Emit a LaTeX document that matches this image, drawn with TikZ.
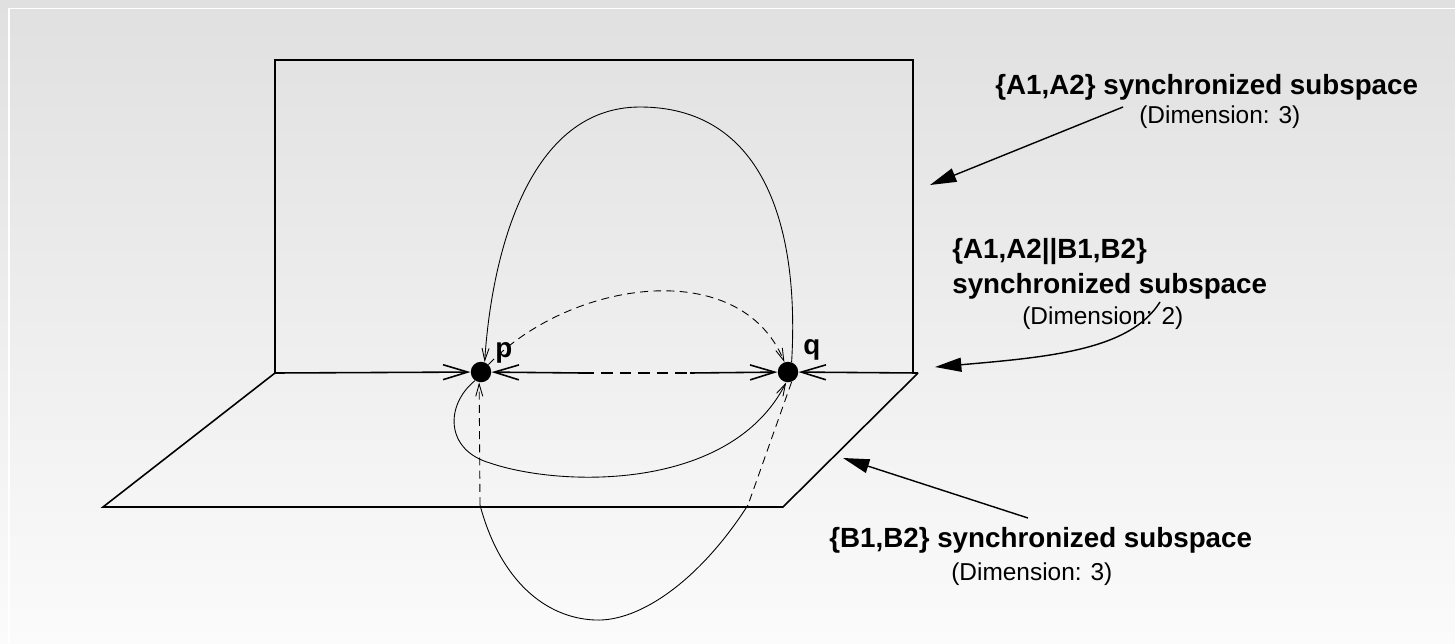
\documentclass[tikz,border=0pt]{standalone}
\usepackage{fontspec}
\setmainfont{Liberation Sans}
\usepackage{tikz}
\usetikzlibrary{arrows.meta}
\definecolor{bgtop}{RGB}{224,224,224}
\definecolor{bgbottom}{RGB}{251,251,251}

\begin{document}
\begin{tikzpicture}[x=0.02cm, y=-0.02cm,
  plane/.style={line width=0.9pt},
  flow/.style={line width=0.5pt},
  hidden/.style={flow, dash pattern=on 4.5pt off 3pt},
  bigtip/.style={-{Straight Barb[length=14pt, width=8.5pt]}},
  smalltip/.style={-{Straight Barb[length=7pt, width=4pt]}},
  callout/.style={line width=0.8pt, -{Triangle[length=15pt, width=8pt]}},
  dot/.style={circle, fill=black, minimum size=0.41cm, inner sep=0pt},
  bigtext/.style={font=\fontsize{15.8}{19}\selectfont\bfseries, inner sep=0pt, anchor=base west},
  smalltext/.style={font=\fontsize{13.9}{17}\selectfont, inner sep=0pt, anchor=base west}]

  % Background
  \useasboundingbox (0,0) rectangle (1455,643);
  \shade[top color=bgtop, bottom color=bgbottom] (0,0) rectangle (1455,643);
  \draw[white, line width=0.8pt] (9,643) -- (9,8.5) -- (1455,8.5);

  % Upright plane and lower plane
  \draw[plane] (275,373) -- (275,60) -- (913,60) -- (913,373);
  \draw[plane] (275,373) -- (103,507) -- (783,507) -- (918,373);

  % States p and q on the common line
  \node[dot] (p) at (481,372) {};
  \node[dot] (q) at (788,372) {};
  \node[bigtext] (plabel) at (495,357) {p};
  \node[bigtext] (qlabel) at (803,354) {q};

  \coordinate (wl) at (275,373);
  \coordinate (wr) at (918,373);
  \coordinate (m1) at (583,373);
  \coordinate (m2) at (690,373);
  \draw[plane, bigtip] (wl) -- (p);
  \draw[plane, bigtip] (wr) -- (q);
  \draw[plane, bigtip] (m1) -- (p);
  \draw[plane, bigtip] (m2) -- (q);
  \draw[plane, dash pattern=on 6.5pt off 4pt] (m1) -- (m2);

  % Paths in the upright plane
  \draw[flow, smalltip] (q.70) .. controls (800,220) and (760,107) .. (640,107) .. controls (530,107) and (492,250) .. (p.70);
  \draw[hidden, smalltip] (p.45) .. controls (570,280) and (740,255) .. (q.110);

  % Path in the lower plane
  \draw[flow, smalltip] (p.-125) .. controls (445,405) and (445,450) .. (490,463) .. controls (560,487) and (730,492) .. (q.-100);

  % Path under the lower plane
  \coordinate (qd) at (748,505);
  \coordinate (pd) at (480,505);
  \draw[hidden] (q.-70) -- (qd);
  \draw[flow] (qd) .. controls (700,580) and (640,622) .. (595,620) .. controls (545,618) and (500,580) .. (pd);
  \draw[hidden, smalltip] (pd) -- (p.-100);

  % Labels
  \node[bigtext] (a12) at (995,94) {\{A1,A2\} synchronized subspace};
  \node[smalltext] (a12dim) at (1139,123) {(Dimension: 3)};
  \node[bigtext] (ab1) at (952,258) {\{A1,A2||B1,B2\}};
  \node[bigtext] (ab2) at (952,293) {synchronized subspace};
  \node[smalltext] (abdim) at (1022,324) {(Dimension: 2)};
  \node[bigtext] (b12) at (829,547) {\{B1,B2\} synchronized subspace};
  \node[smalltext] (b12dim) at (951,580) {(Dimension: 3)};

  % Callouts
  \coordinate (a12from) at (1123,107);
  \coordinate (a12to) at (930,185);
  \coordinate (abfrom) at (1160,302);
  \coordinate (abto) at (935,367);
  \coordinate (b12from) at (1028,518);
  \coordinate (b12to) at (843,458);
  \draw[callout] (a12from) -- (a12to);
  \draw[callout] (abfrom) .. controls (1130,350) and (1050,357) .. (abto);
  \draw[callout] (b12from) -- (b12to);

\end{tikzpicture}
\end{document}
